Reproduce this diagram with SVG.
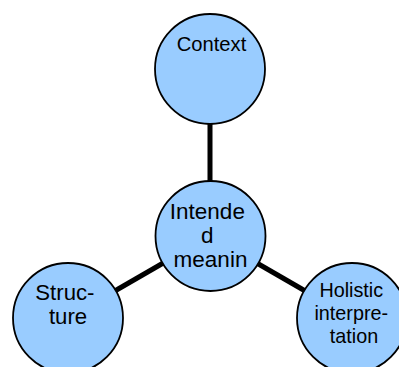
<svg xmlns="http://www.w3.org/2000/svg" width="399" height="367" viewBox="0 0 399 367">
  <style>
    .node circle { fill: #99ccff; stroke: #000; stroke-width: 1.8; }
    .node text { font-family: "Liberation Sans", Arial, sans-serif; fill: #000; text-anchor: middle; }
    .link { stroke: #000; stroke-width: 5; fill: none; }
  </style>
  <rect width="399" height="367" fill="#fff"/>

  <!-- spokes from the hub to each outer circle -->
  <g id="connectors">
    <line class="link" x1="210" y1="69" x2="210" y2="236"/>
    <line class="link" x1="210" y1="236" x2="68" y2="318"/>
    <line class="link" x1="210" y1="236" x2="352" y2="318"/>
  </g>

  <g id="context" class="node">
    <circle cx="210" cy="69" r="55"/>
    <text x="211.5" y="51" font-size="20.2">Context</text>
  </g>

  <g id="intended-meaning" class="node">
    <circle cx="210.5" cy="236" r="55"/>
    <text font-size="22.5">
      <tspan x="210.5" y="219">Intende</tspan>
      <tspan x="210.5" y="243">d</tspan>
      <tspan x="210.5" y="267">meanin</tspan>
    </text>
  </g>

  <g id="structure" class="node">
    <circle cx="68" cy="318" r="55"/>
    <text font-size="22.2">
      <tspan x="68" y="300">Struc-</tspan>
      <tspan x="68" y="324">ture</tspan>
    </text>
  </g>

  <g id="holistic-interpretation" class="node">
    <circle cx="352" cy="318" r="55"/>
    <text font-size="19.8">
      <tspan x="354" y="297">Holistic</tspan>
      <tspan x="354" y="320">interpre-</tspan>
      <tspan x="354" y="343">tation</tspan>
    </text>
  </g>
</svg>
